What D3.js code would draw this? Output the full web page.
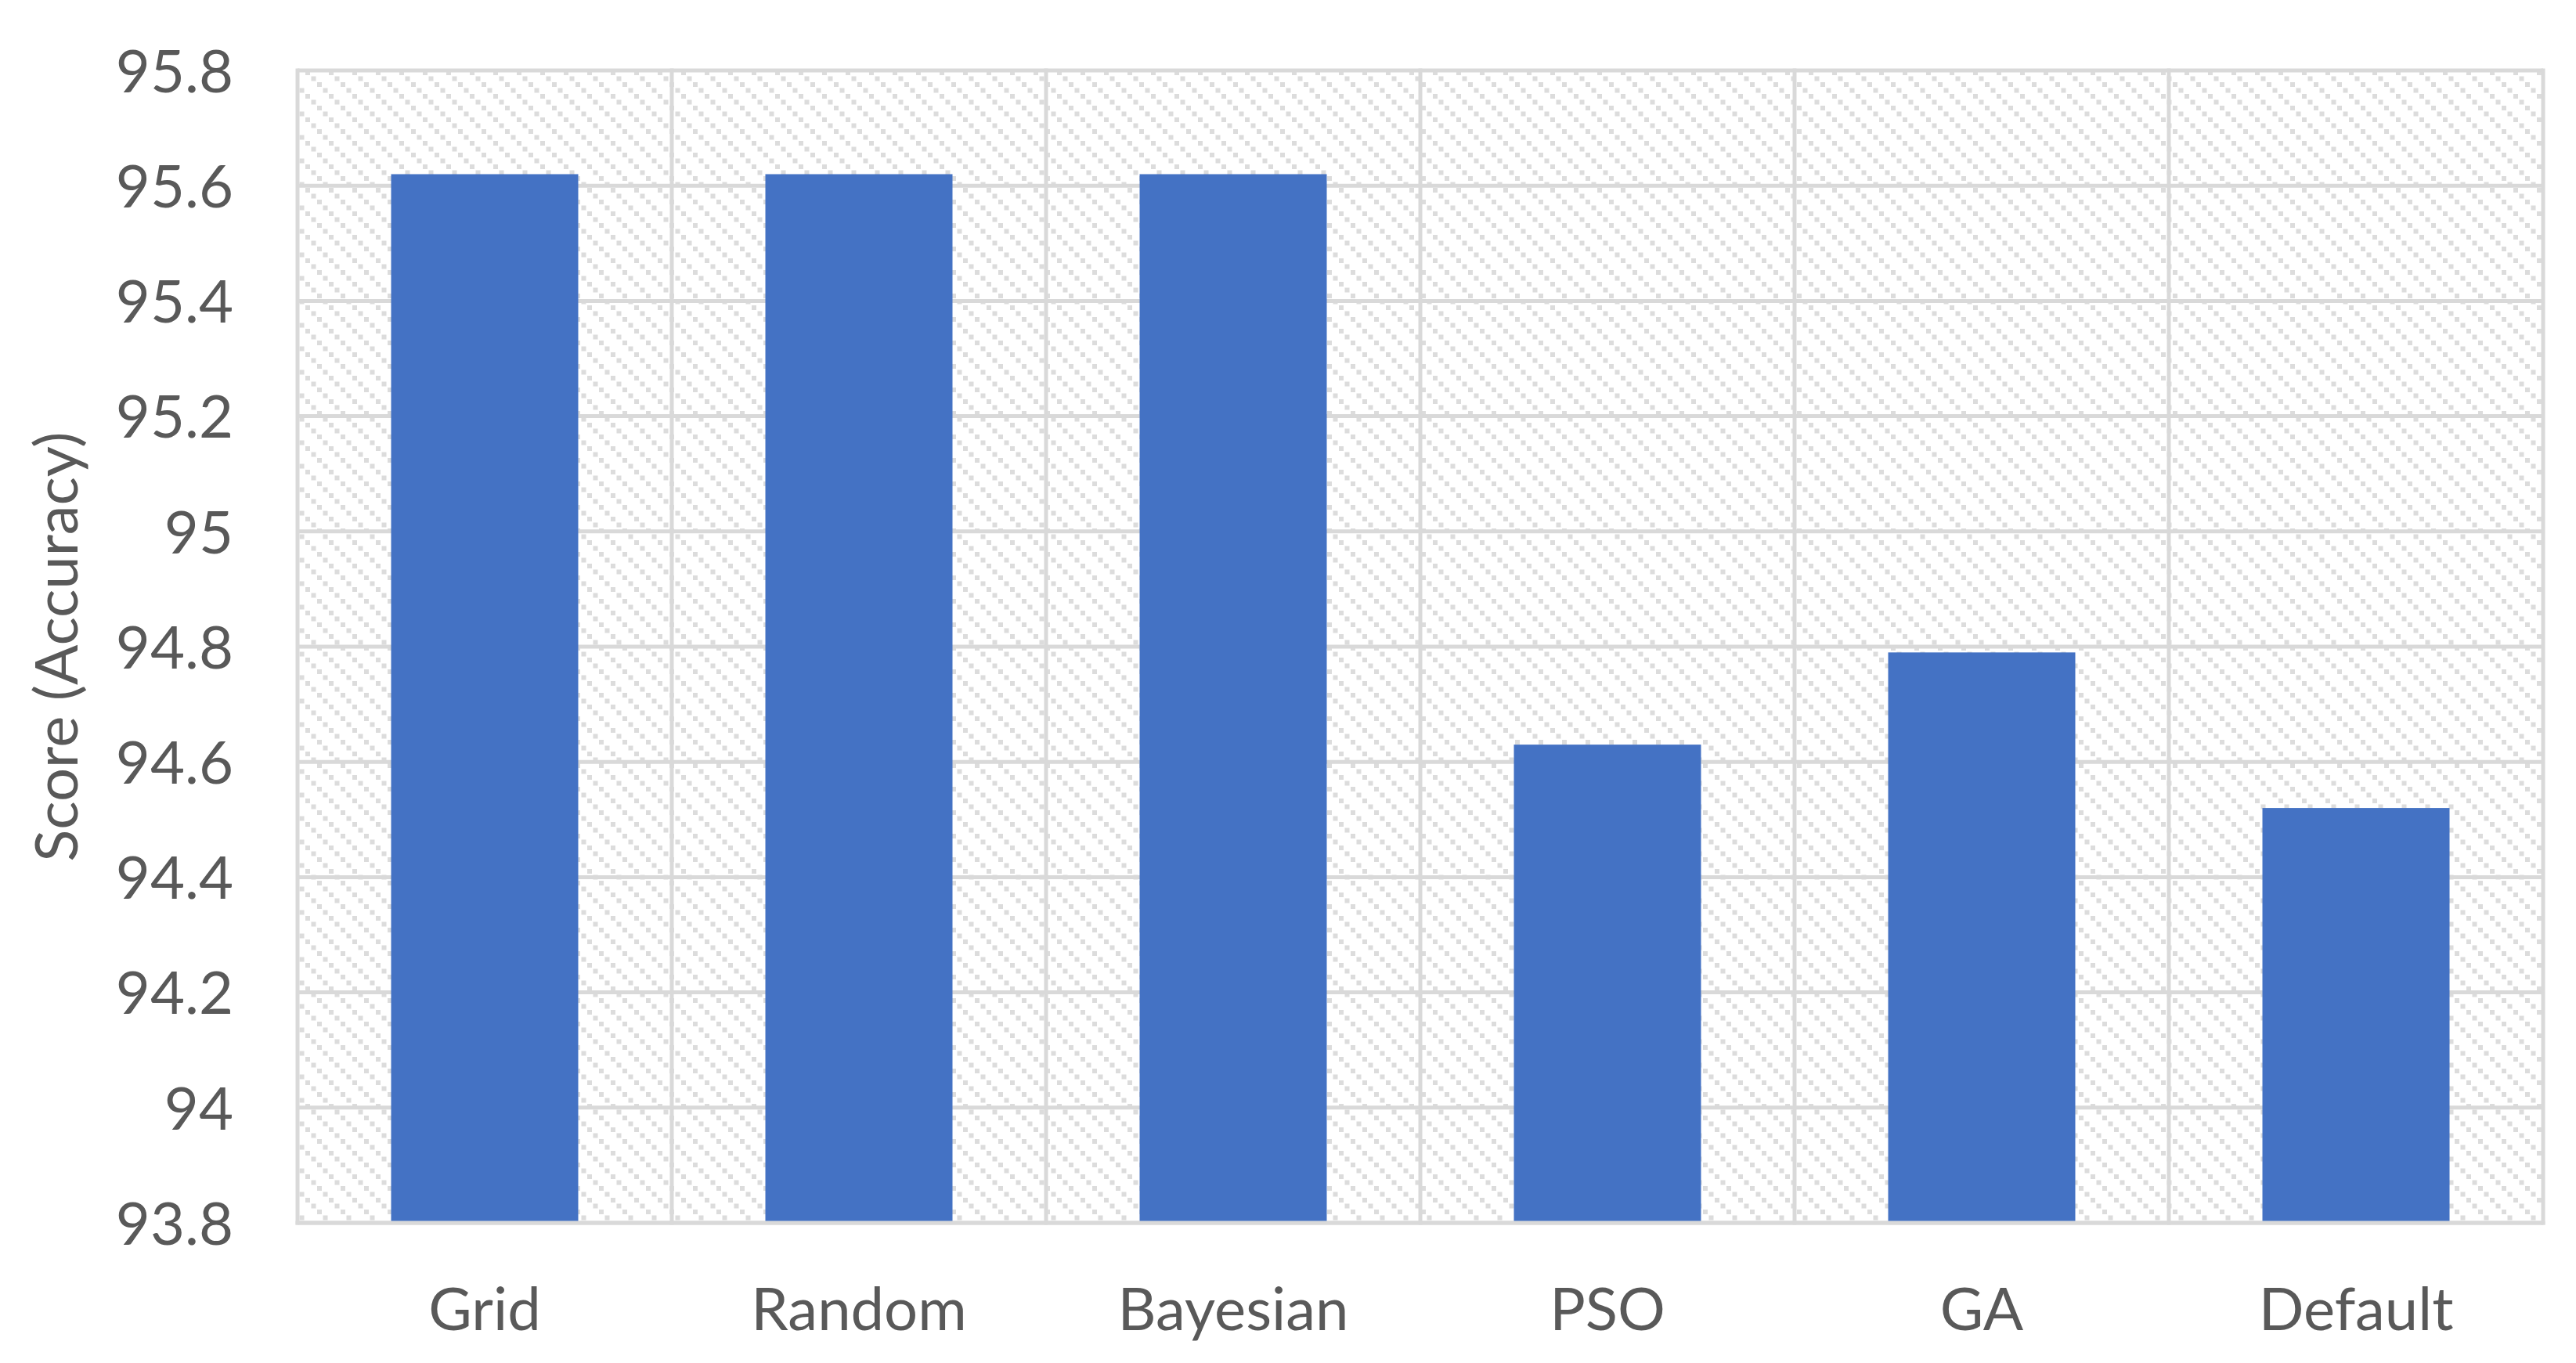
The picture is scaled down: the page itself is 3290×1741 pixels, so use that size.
<!DOCTYPE html>
<html>
<head>
<meta charset="utf-8">
<script src="https://cdn.jsdelivr.net/npm/d3@7"></script>
<style>
  body { margin: 0; background: #fff; }
  text { font-family: Lato, "Open Sans", sans-serif; fill: #595959; }
</style>
</head>
<body>
<div class="chart"></div>
<script>
const methods = ["Grid", "Random", "Bayesian", "PSO", "GA", "Default"];
const scores = [95.62, 95.62, 95.62, 94.63, 94.79, 94.52];
const yTicks = [93.8, 94, 94.2, 94.4, 94.6, 94.8, 95, 95.2, 95.4, 95.6, 95.8];
const yTitle = "Score (Accuracy)";

const W = 3290, H = 1741;
const margin = { top: 90, right: 42, bottom: 179, left: 380 };

const svg = d3.select(".chart")
              .append("svg")
              .attr("width", W)
              .attr("height", H);

// hatched background pattern
const pat = svg.append("defs").append("pattern")
               .attr("id", "hatch")
               .attr("patternUnits", "userSpaceOnUse")
               .attr("width", 30)
               .attr("height", 30);
pat.append("rect").attr("width", 30).attr("height", 30).attr("fill", "#fff");
[0, 7.5, 15, 22.5].forEach(o => {
    pat.append("rect")
       .attr("x", o).attr("y", o)
       .attr("width", 6).attr("height", 6)
       .attr("fill", "#dcdcdc");
});

let x = d3.scaleBand()
          .domain(methods)
          .range([margin.left, W - margin.right])
          .paddingInner(0.5)
          .paddingOuter(0.25);

let y = d3.scaleLinear()
          .domain([yTicks[0], yTicks[yTicks.length - 1]])
          .range([H - margin.bottom, margin.top]);

const step = x.step();

svg.append("rect")
   .attr("x", margin.left)
   .attr("y", margin.top)
   .attr("width", W - margin.left - margin.right)
   .attr("height", H - margin.top - margin.bottom)
   .attr("fill", "url(#hatch)");

// horizontal gridlines
svg.append("g")
   .selectAll("line")
   .data(yTicks)
   .enter().append("line")
   .attr("x1", margin.left)
   .attr("x2", W - margin.right)
   .attr("y1", d => y(d))
   .attr("y2", d => y(d))
   .attr("stroke", "#d9d9d9")
   .attr("stroke-width", 5);

// vertical gridlines at category boundaries
const bounds = methods.map(m => x(m) + x.bandwidth() / 2 - step / 2);
bounds.push(W - margin.right);
svg.append("g")
   .selectAll("line")
   .data(bounds)
   .enter().append("line")
   .attr("x1", d => d)
   .attr("x2", d => d)
   .attr("y1", margin.top - 2.5)
   .attr("y2", H - margin.bottom + 2.5)
   .attr("stroke", "#d9d9d9")
   .attr("stroke-width", 5);

// bars
svg.selectAll(".bar")
   .data(methods)
   .enter().append("rect")
   .attr("class", "bar")
   .attr("x", d => x(d))
   .attr("y", (d, i) => y(scores[i]))
   .attr("width", x.bandwidth())
   .attr("height", (d, i) => y(yTicks[0]) - y(scores[i]))
   .attr("fill", "#4472c4");

// bottom border over bars
svg.append("line")
   .attr("x1", margin.left - 2.5)
   .attr("x2", W - margin.right + 2.5)
   .attr("y1", y(yTicks[0]))
   .attr("y2", y(yTicks[0]))
   .attr("stroke", "#d9d9d9")
   .attr("stroke-width", 5);

// y axis
svg.append("g")
   .attr("transform", `translate(${margin.left}, 0)`)
   .call(d3.axisLeft(y).tickValues(yTicks).tickFormat(d => String(+d.toFixed(1))).tickSize(0).tickPadding(82))
   .call(g => g.select(".domain").remove())
   .call(g => g.selectAll("text")
               .attr("font-size", 76)
               .attr("dy", "0.36em")
               .style("font-family", "Lato, sans-serif")
               .attr("fill", "#595959"));

// x axis
svg.append("g")
   .attr("transform", `translate(0, ${H - margin.bottom})`)
   .call(d3.axisBottom(x).tickSize(0).tickPadding(83))
   .call(g => g.select(".domain").remove())
   .call(g => g.selectAll("text")
               .attr("font-size", 76)
               .attr("dy", "0.71em")
               .style("font-family", "Lato, sans-serif")
               .attr("fill", "#595959"));

// y title
svg.append("text")
   .attr("transform", `translate(${72}, ${(margin.top + H - margin.bottom) / 2}) rotate(-90)`)
   .attr("text-anchor", "middle")
   .attr("dy", "0.35em")
   .attr("font-size", 76)
   .text(yTitle);
</script>
</body>
</html>
